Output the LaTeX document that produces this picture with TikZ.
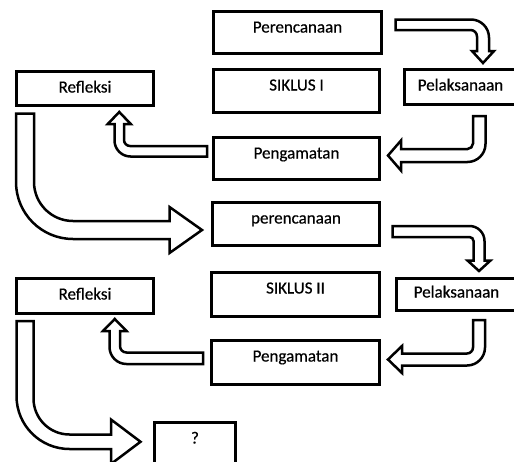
\documentclass[tikz,border=0pt]{standalone}
\usepackage{fontspec}
\setmainfont{Carlito}
\newfontfamily\boxfont{Carlito}[BoldFont=Carlito, BoldFeatures={FakeBold=0.5}]

\begin{document}
\begin{tikzpicture}[x=1pt, y=-1pt,
    box/.style={draw, line width=3pt, inner sep=0pt, text height=21pt,
      font=\boxfont\bfseries\fontsize{17}{20}\selectfont},
    blockarrow/.style={draw, line width=2.5pt, fill=white, line join=miter}]
  \useasboundingbox (0,0) rectangle (514,461);
  % siklus I
  \node(per1)[box, minimum width=168pt, text depth=21pt] at (297.5,32.5) {Perencanaan};
  \node(sik1)[box, minimum width=166pt, text depth=22pt] at (296.5,91) {SIKLUS I};
  \node(ref1)[box, minimum width=137pt, text depth=13pt] at (85,88.5) {Refleksi};
  \node(pel1)[box, minimum width=112pt, text depth=14pt] at (460.5,87) {Pelaksanaan};
  \node(pen1)[box, minimum width=166pt, text depth=21pt] at (296.5,158.5) {Pengamatan};
  % siklus II
  \node(per2)[box, minimum width=167pt, text depth=22pt] at (296,224) {perencanaan};
  \node(sik2)[box, minimum width=168pt, text depth=23pt] at (295.5,294.5) {SIKLUS II};
  \node(ref2)[box, minimum width=137pt, text depth=14pt] at (85,296) {Refleksi};
  \node(pel2)[box, minimum width=120pt, text height=19pt, text depth=13pt] at (456.5,294.5) {Pelaksanaan};
  \node(pen2)[box, minimum width=168pt, text depth=23pt] at (295.5,362.5) {Pengamatan};
  \node(next)[box, minimum width=81pt, text depth=30pt] at (195,448) {?};
  % per1 -> pel1
  \draw[blockarrow] (395.5,19.5) -- (471,19.5) .. controls (480.9,19.5) and (489,27.6) .. (489,37.5)
    -- (489,51) -- (494,51) -- (483,63) -- (472,51) -- (477,51) -- (477,36.5)
    .. controls (477,32.9) and (474.1,30) .. (470.5,30) -- (395.5,30) -- cycle;
  % pel1 -> pen1
  \draw[blockarrow] (473,116) -- (485.5,116) -- (485.5,144) .. controls (485.5,153.9) and (477.4,162) .. (467.5,162)
    -- (401,162) -- (401,170.5) -- (388,155.5) -- (401,140.5) -- (401,149) -- (467.5,149)
    .. controls (470.5,149) and (473,146.5) .. (473,143.5) -- cycle;
  % pen1 -> ref1
  \draw[blockarrow] (207,146) -- (207,156.5) -- (130.5,156.5) .. controls (121.7,156.5) and (114.5,149.3) .. (114.5,140.5)
    -- (114.5,124) -- (107.75,124) -- (119.25,112) -- (130.75,124) -- (124,124) -- (124,140)
    .. controls (124,143.3) and (126.7,146) .. (130,146) -- cycle;
  % ref1 -> per2
  \draw[blockarrow] (16,113.5) -- (34,113.5) -- (34,182) .. controls (34,203.5) and (51.5,221) .. (73,221)
    -- (169.5,221) -- (169.5,207) -- (202,230) -- (169.5,253) -- (169.5,239) -- (73,239)
    .. controls (41.5,239) and (16,213.5) .. (16,182) -- cycle;
  % per2 -> pel2
  \draw[blockarrow] (392.5,226) -- (469.5,226) .. controls (477.8,226) and (484.5,232.7) .. (484.5,241)
    -- (484.5,260.5) -- (490.5,260.5) -- (479,271) -- (467.5,260.5) -- (473.5,260.5) -- (473.5,241)
    .. controls (473.5,238.8) and (471.7,237) .. (469.5,237) -- (392.5,237) -- cycle;
  % pel2 -> pen2
  \draw[blockarrow] (473,320) -- (485,320) -- (485,347.5) .. controls (485,357.4) and (476.9,365.5) .. (467,365.5)
    -- (402,365.5) -- (402,373) -- (388,359.5) -- (402,346) -- (402,353.5) -- (467,353.5)
    .. controls (470.3,353.5) and (473,350.8) .. (473,347.5) -- cycle;
  % pen2 -> ref2
  \draw[blockarrow] (203,352.5) -- (203,364) -- (126.5,364) .. controls (117.1,364) and (109.5,356.4) .. (109.5,347)
    -- (109.5,331) -- (103,331) -- (114.75,319) -- (126.5,331) -- (120,331) -- (120,346)
    .. controls (120,349.6) and (122.9,352.5) .. (126.5,352.5) -- cycle;
  % ref2 -> next
  \draw[blockarrow] (16.5,321) -- (33.5,321) -- (33.5,398.5) .. controls (33.5,418.4) and (49.6,434.5) .. (69.5,434.5)
    -- (111,434.5) -- (111,419.5) -- (140.5,441.75) -- (111,464) -- (111,449) -- (69.5,449)
    .. controls (40.2,449) and (16.5,425.3) .. (16.5,396) -- cycle;
\end{tikzpicture}
\end{document}
